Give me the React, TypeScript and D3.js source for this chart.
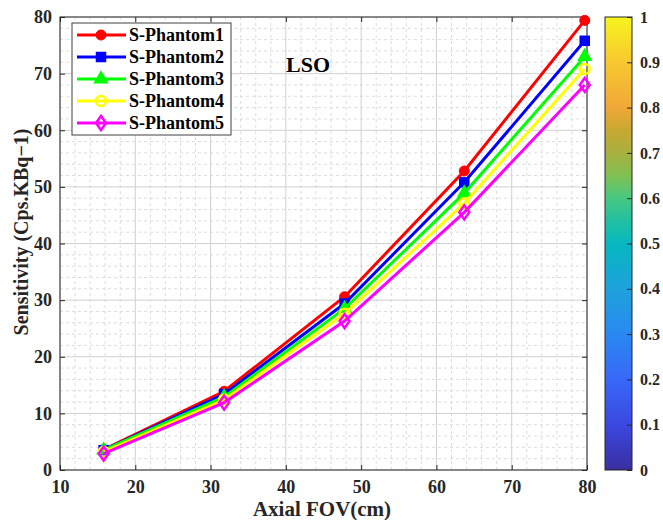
import * as d3 from 'd3';
import React, { useEffect, useRef } from 'react';

// axial FOV positions (cm)
const fov = [15.8, 31.8, 47.8, 63.7, 79.7];

const seriesNames = ['S-Phantom1', 'S-Phantom2', 'S-Phantom3', 'S-Phantom4', 'S-Phantom5'];
const phantom1 = [3.6, 13.9, 30.6, 52.8, 79.4];
const phantom2 = [3.5, 13.4, 29.4, 50.8, 75.8];
const phantom3 = [3.5, 12.9, 28.5, 48.9, 73.0];
const phantom4 = [3.2, 12.4, 27.6, 47.1, 70.8];
const phantom5 = [2.9, 11.9, 26.3, 45.5, 68.0];
const seriesColors = ['#ff0000', '#0000ff', '#00ff00', '#ffff00', '#ff00ff'];
const seriesMarkers = ['circle', 'square', 'triangle', 'circleOpen', 'diamond'];

const xTicks = [10, 20, 30, 40, 50, 60, 70, 80];
const yTicks = [0, 10, 20, 30, 40, 50, 60, 70, 80];
const cbTicks = [0, 0.1, 0.2, 0.3, 0.4, 0.5, 0.6, 0.7, 0.8, 0.9, 1];

// colormap stops (parula-like)
const cmapStops = [0, 0.1, 0.2, 0.3, 0.4, 0.5, 0.55, 0.6, 0.65, 0.7, 0.75, 0.8, 0.9, 1];
const cmapColors = ['#3a2fa0', '#3a48e0', '#3868f8', '#2a88f0', '#1ea2dc', '#06b8c0', '#22c0a2', '#48c882',
  '#80c052', '#a8b040', '#c8a832', '#f0a838', '#f8c830', '#f7f41e'];

export default function App() {
  const svgRef = useRef<SVGSVGElement>(null);
  const width = 663;
  const height = 520;

  useEffect(() => {
    const svg = d3.select(svgRef.current);
    svg.selectAll('*').remove();
    const font = '"Liberation Serif", "Times New Roman", serif';

    const left = 60, right = 587, top = 17, bottom = 470;
    const x = d3.scaleLinear().domain([10, 80]).range([left, right]);
    const y = d3.scaleLinear().domain([0, 80]).range([bottom, top]);

    svg.append('rect').attr('width', width).attr('height', height).attr('fill', '#fff');

    // minor grid
    const g = svg.append('g');
    d3.range(10, 80.01, 2).forEach((v) => {
      if (v % 10 === 0) return;
      g.append('line').attr('x1', x(v)).attr('x2', x(v)).attr('y1', top).attr('y2', bottom)
        .attr('stroke', '#dcdcdc').attr('stroke-width', 1).attr('stroke-dasharray', '3,3');
    });
    d3.range(0, 80.01, 2).forEach((v) => {
      if (v % 10 === 0) return;
      g.append('line').attr('x1', left).attr('x2', right).attr('y1', y(v)).attr('y2', y(v))
        .attr('stroke', '#dcdcdc').attr('stroke-width', 1).attr('stroke-dasharray', '3,3');
    });
    // major grid
    xTicks.forEach((v) => {
      g.append('line').attr('x1', x(v)).attr('x2', x(v)).attr('y1', top).attr('y2', bottom)
        .attr('stroke', '#d0d0d0').attr('stroke-width', 1);
    });
    yTicks.forEach((v) => {
      g.append('line').attr('x1', left).attr('x2', right).attr('y1', y(v)).attr('y2', y(v))
        .attr('stroke', '#d0d0d0').attr('stroke-width', 1);
    });

    // axes (ticks inward, box)
    const tl = -5;
    svg.append('g').attr('transform', `translate(0,${bottom})`)
      .call(d3.axisBottom(x).tickValues(xTicks).tickSizeInner(tl).tickSizeOuter(0).tickPadding(10))
      .call((a) => a.select('.domain').remove());
    svg.append('g').attr('transform', `translate(0,${top})`)
      .call(d3.axisTop(x).tickValues(xTicks).tickSizeInner(tl).tickSizeOuter(0).tickFormat(() => ''))
      .call((a) => a.select('.domain').remove());
    svg.append('g').attr('transform', `translate(${left},0)`)
      .call(d3.axisLeft(y).tickValues(yTicks).tickSizeInner(tl).tickSizeOuter(0).tickPadding(8))
      .call((a) => a.select('.domain').remove());
    svg.append('g').attr('transform', `translate(${right},0)`)
      .call(d3.axisRight(y).tickValues(yTicks).tickSizeInner(tl).tickSizeOuter(0).tickFormat(() => ''))
      .call((a) => a.select('.domain').remove());
    svg.selectAll('.tick text')
      .style('font-family', font).style('font-size', '18px').style('font-weight', 'bold').attr('fill', '#262626');
    svg.selectAll('.tick line').attr('stroke', '#262626');

    svg.append('rect').attr('x', left).attr('y', top).attr('width', right - left).attr('height', bottom - top)
      .attr('fill', 'none').attr('stroke', '#262626').attr('stroke-width', 1);

    // series
    const allSeries = [phantom1, phantom2, phantom3, phantom4, phantom5];
    const line = d3.line<number>().x((d, i) => x(fov[i])).y((d) => y(d));

    const drawMarker = (sel: any, kind: string, cx: number, cy: number, color: string) => {
      if (kind === 'circle') {
        sel.append('circle').attr('cx', cx).attr('cy', cy).attr('r', 5).attr('fill', color).attr('stroke', color);
      } else if (kind === 'square') {
        sel.append('rect').attr('x', cx - 4.5).attr('y', cy - 4.5).attr('width', 9).attr('height', 9)
          .attr('fill', color).attr('stroke', color).attr('stroke-width', 1.5);
      } else if (kind === 'triangle') {
        sel.append('path').attr('d', d3.symbol(d3.symbolTriangle, 70)()).attr('transform', `translate(${cx},${cy})`)
          .attr('fill', color).attr('stroke', color).attr('stroke-width', 1.5);
      } else if (kind === 'circleOpen') {
        sel.append('circle').attr('cx', cx).attr('cy', cy).attr('r', 5).attr('fill', 'none')
          .attr('stroke', color).attr('stroke-width', 2.5);
      } else {
        sel.append('path').attr('d', `M${cx},${cy - 7}L${cx + 5},${cy}L${cx},${cy + 7}L${cx - 5},${cy}Z`)
          .attr('fill', 'none').attr('stroke', color).attr('stroke-width', 2.5);
      }
    };

    allSeries.forEach((vals, k) => {
      const sg = svg.append('g');
      sg.append('path').datum(vals).attr('d', line).attr('fill', 'none')
        .attr('stroke', seriesColors[k]).attr('stroke-width', 3);
      vals.forEach((v, i) => drawMarker(sg, seriesMarkers[k], x(fov[i]), y(v), seriesColors[k]));
    });

    // legend
    const lg = svg.append('g');
    lg.append('rect').attr('x', 72).attr('y', 23).attr('width', 159).attr('height', 112)
      .attr('fill', '#fff').attr('stroke', '#404040').attr('stroke-width', 1);
    seriesNames.forEach((name, k) => {
      const ly = 35 + k * 22;
      lg.append('line').attr('x1', 77).attr('x2', 126).attr('y1', ly).attr('y2', ly)
        .attr('stroke', seriesColors[k]).attr('stroke-width', 3);
      drawMarker(lg, seriesMarkers[k], 101, ly, seriesColors[k]);
      lg.append('text').attr('x', 129).attr('y', ly + 6).text(name)
        .style('font-family', font).style('font-size', '18px').style('font-weight', 'bold').attr('fill', '#000');
    });

    svg.append('text').attr('x', 308).attr('y', 72).attr('text-anchor', 'middle').text('LSO')
      .style('font-family', font).style('font-size', '22px').style('font-weight', 'bold');

    // axis labels
    svg.append('text').attr('x', 322).attr('y', 516).attr('text-anchor', 'middle')
      .text('Axial FOV(cm)')
      .style('font-family', font).style('font-size', '21px').style('font-weight', 'bold').attr('fill', '#262626');
    svg.append('text').attr('transform', 'translate(28,232) rotate(-90)')
      .attr('text-anchor', 'middle').text('Sensitivity (Cps.KBq\u22121)')
      .style('font-family', font).style('font-size', '20px').style('font-weight', 'bold').attr('fill', '#262626');

    // colour bar
    const cbL = 605, cbR = 632;
    const cb = d3.scaleLinear().domain([0, 1]).range([bottom, top]);
    const defs = svg.append('defs');
    const grad = defs.append('linearGradient').attr('id', 'cbgrad')
      .attr('x1', 0).attr('y1', 1).attr('x2', 0).attr('y2', 0);
    cmapStops.forEach((s, i) => {
      grad.append('stop').attr('offset', s).attr('stop-color', cmapColors[i]);
    });
    svg.append('rect').attr('x', cbL).attr('y', top).attr('width', cbR - cbL).attr('height', bottom - top)
      .attr('fill', 'url(#cbgrad)').attr('stroke', '#262626').attr('stroke-width', 1);
    svg.append('g').attr('transform', `translate(${cbR},0)`)
      .call(d3.axisRight(cb).tickValues(cbTicks).tickSizeInner(-5).tickSizeOuter(0).tickPadding(8)
        .tickFormat((d) => String(d)))
      .call((a) => a.select('.domain').remove())
      .call((a) => a.selectAll('text').style('font-family', font).style('font-size', '16px')
        .style('font-weight', 'bold').attr('fill', '#262626'))
      .call((a) => a.selectAll('line').attr('stroke', '#262626'));
  }, []);

  return (
    <svg ref={svgRef} width={width} height={height}
      style={{ position: 'absolute', left: 0, top: 0 }}></svg>
  );
}
